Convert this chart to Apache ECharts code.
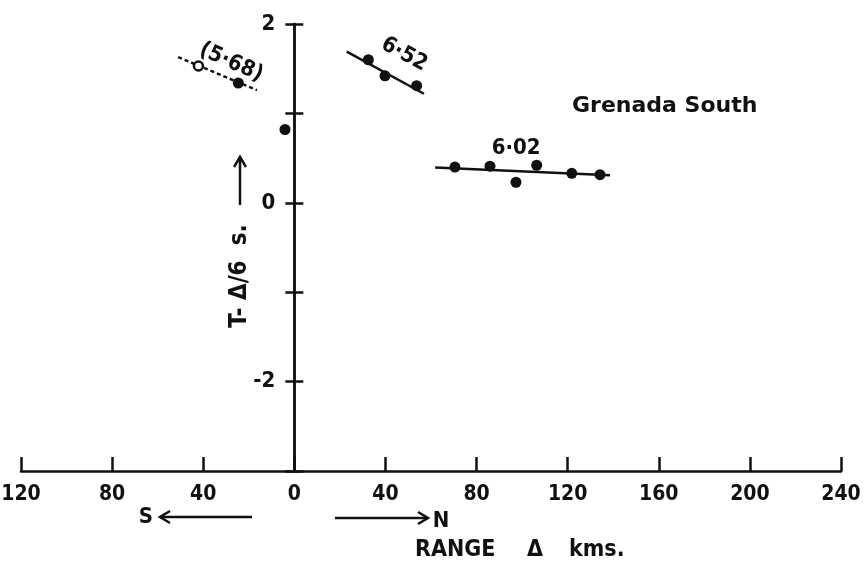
<!DOCTYPE html>
<html>
<head>
<meta charset="utf-8">
<script src="https://cdn.jsdelivr.net/npm/echarts@6/dist/echarts.min.js"></script>
<style>html,body{margin:0;padding:0;background:#fff}#c{width:868px;height:568px}</style>
</head>
<body>
<div id="c"></div>
<script>
// ---- data ----
const xTickValues = [-120, -80, -40, 0, 40, 80, 120, 160, 200, 240];
const xTickLabels = ['120', '80', '40', '0', '40', '80', '120', '160', '200', '240'];
const yTickLabelValues = [2, 0, -2];
const yTickLabels = ['2', '0', '-2'];

// 6.02 branch (north)
const dist602 = [70.5, 85.9, 97.3, 106.4, 121.8, 134.2];
const time602 = [0.40, 0.41, 0.23, 0.42, 0.33, 0.315];
// 6.52 branch (north, near)
const dist652 = [32.5, 39.8, 53.7];
const time652 = [1.60, 1.42, 1.31];
// 5.68 branch (south)
const dist568Filled = [-24.6];
const time568Filled = [1.34];
const dist568Open = [-42.1];
const time568Open = [1.53];
// point near shot
const distNear = [-4.1];
const timeNear = [0.82];

// fitted lines (end points)
const fit602X = [61.8, 138.6];
const fit602Y = [0.394, 0.308];
const fit652X = [23.0, 56.9];
const fit652Y = [1.69, 1.22];
const fit568X = [-51.0, -16.4];
const fit568Y = [1.63, 1.26];

// velocity labels
const velLabels = ['(5·68)', '6·52', '6·02'];
const velLabelX = [-27.7, 48.2, 97.4];
const velLabelY = [1.57, 1.66, 0.61];
const velLabelRot = [-24, -28, 0];

// ---- chart ----
const zip = (a, b) => a.map((v, i) => [v, b[i]]);
const FONT = '"DejaVu Sans Condensed", "DejaVu Sans", sans-serif';
const INK = '#111';

const chart = echarts.init(document.getElementById('c'), null, {renderer: 'canvas'});

const gridBox = {left: 21, right: 27, top: 24, bottom: 97, containLabel: false, outerBoundsMode: 'none'};
const xBase = {type: 'value', min: -120, max: 240, interval: 40, splitLine: {show: false}};
const yBase = {type: 'value', min: -3, max: 2, interval: 1, splitLine: {show: false},
  axisLabel: {show: false},
  axisLine: {show: true, onZero: true, lineStyle: {color: INK, width: 2.5}}};

chart.setOption({
  animation: false,
  backgroundColor: '#fff',
  grid: [Object.assign({}, gridBox), Object.assign({}, gridBox)],
  xAxis: [
    Object.assign({}, xBase, {
      gridIndex: 0,
      axisLine: {show: true, onZero: false, lineStyle: {color: INK, width: 2.5}},
      axisTick: {show: true, inside: true, length: 14, lineStyle: {color: INK, width: 2.5}},
      axisLabel: {
        color: INK, fontFamily: FONT, fontWeight: 'bold', fontSize: 21, margin: 13,
        formatter: v => { const i = xTickValues.indexOf(v); return i >= 0 ? xTickLabels[i] : ''; }
      }
    }),
    Object.assign({}, xBase, {
      gridIndex: 1, show: false,
      axisLine: {show: false, onZero: false}
    })
  ],
  yAxis: [
    Object.assign({}, yBase, {
      gridIndex: 0,
      axisTick: {show: true, inside: false, length: 9, lineStyle: {color: INK, width: 2.5}}
    }),
    Object.assign({}, yBase, {
      gridIndex: 1,
      axisTick: {show: true, inside: true, length: 9, lineStyle: {color: INK, width: 2.5}}
    })
  ],
  series: [
    {type: 'line', data: zip(fit602X, fit602Y), symbol: 'none', lineStyle: {color: INK, width: 2.5}, z: 2},
    {type: 'line', data: zip(fit652X, fit652Y), symbol: 'none', lineStyle: {color: INK, width: 2.5}, z: 2},
    {type: 'line', data: zip(fit568X, fit568Y), symbol: 'none', lineStyle: {color: INK, width: 2.5, type: [4, 3]}, z: 2},
    {type: 'scatter', data: zip(dist602, time602).concat(zip(dist652, time652), zip(dist568Filled, time568Filled), zip(distNear, timeNear)),
      symbol: 'circle', symbolSize: 11, itemStyle: {color: INK, opacity: 1}, z: 3},
    {type: 'scatter', data: zip(dist568Open, time568Open), symbol: 'circle', symbolSize: 9,
      itemStyle: {color: '#fff', borderColor: INK, borderWidth: 2.5, opacity: 1}, z: 3},
    {type: 'scatter', symbolSize: 0, z: 4, itemStyle: {opacity: 1},
      data: velLabels.map((t, i) => ({
        value: [velLabelX[i], velLabelY[i]],
        label: {show: true, position: 'inside', formatter: t, rotate: velLabelRot[i],
          color: INK, fontFamily: FONT, fontWeight: 'bold', fontSize: 22}
      }))
    },
    // y-axis tick labels, placed beside the axis at x = 0
    {type: 'scatter', symbolSize: 0, z: 4, itemStyle: {opacity: 1}, silent: true,
      data: yTickLabelValues.map((v, i) => ({
        value: [0, v],
        label: {show: true, position: 'left', distance: 19, formatter: yTickLabels[i],
          color: INK, fontFamily: FONT, fontWeight: 'bold', fontSize: 22}
      }))
    }
  ],
  graphic: [
    {type: 'text', x: 572, y: 106, style: {text: 'Grenada South', fill: INK, font: 'bold 22px "DejaVu Sans", sans-serif', textVerticalAlign: 'middle'}},
    {type: 'text', x: 240, y: 276, rotation: Math.PI / 2, style: {text: 'T- Δ/6  s.', fill: INK, font: 'bold 24px ' + FONT, textAlign: 'center', textVerticalAlign: 'middle'}},
    {type: 'polyline', shape: {points: [[240, 205], [240, 157]]}, style: {stroke: INK, lineWidth: 2.5}},
    {type: 'polyline', shape: {points: [[234, 167], [240, 157], [246, 167]]}, style: {stroke: INK, lineWidth: 2.5, fill: null}},
    {type: 'text', x: 146, y: 517, style: {text: 'S', fill: INK, font: 'bold 22px ' + FONT, textAlign: 'center', textVerticalAlign: 'middle'}},
    {type: 'polyline', shape: {points: [[160, 517], [252, 517]]}, style: {stroke: INK, lineWidth: 2.5}},
    {type: 'polyline', shape: {points: [[170, 511], [160, 517], [170, 523]]}, style: {stroke: INK, lineWidth: 2.5, fill: null}},
    {type: 'polyline', shape: {points: [[335, 518], [428, 518]]}, style: {stroke: INK, lineWidth: 2.5}},
    {type: 'polyline', shape: {points: [[418, 512], [428, 518], [418, 524]]}, style: {stroke: INK, lineWidth: 2.5, fill: null}},
    {type: 'text', x: 441, y: 521, style: {text: 'N', fill: INK, font: 'bold 22px ' + FONT, textAlign: 'center', textVerticalAlign: 'middle'}},
    {type: 'text', x: 415, y: 550, style: {text: 'RANGE', fill: INK, font: 'bold 23px ' + FONT, textVerticalAlign: 'middle'}},
    {type: 'text', x: 535, y: 550, style: {text: 'Δ', fill: INK, font: 'bold 23px ' + FONT, textAlign: 'center', textVerticalAlign: 'middle'}},
    {type: 'text', x: 569, y: 550, style: {text: 'kms.', fill: INK, font: 'bold 23px ' + FONT, textVerticalAlign: 'middle'}}
  ]
});
</script>
</body>
</html>
